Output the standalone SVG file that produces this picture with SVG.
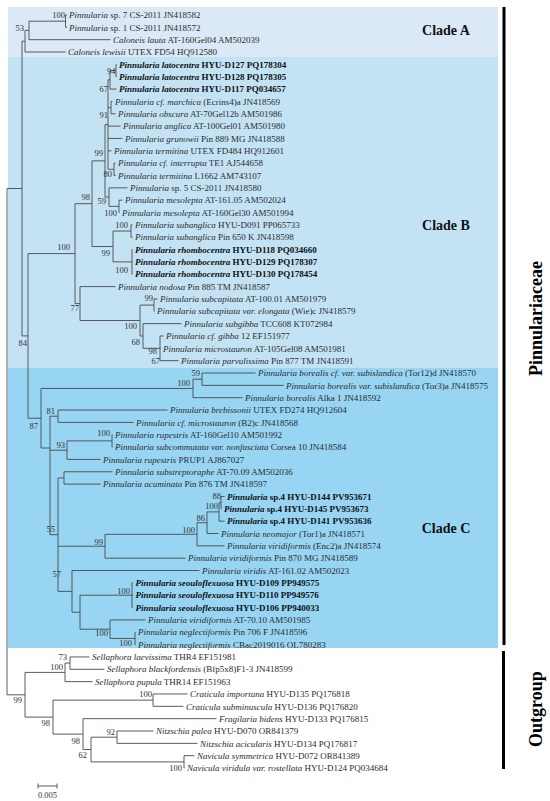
<svg xmlns="http://www.w3.org/2000/svg" width="550" height="801" viewBox="0 0 550 801">
<style>
.t{font-family:"Liberation Serif","Times New Roman",serif;font-size:9px;fill:#2b2b2b}
.i{font-style:italic}
.b{font-weight:bold;fill:#111}
.bs{font-family:"Liberation Serif","Times New Roman",serif;font-size:8.5px;fill:#333;text-anchor:end}
.cl{font-family:"Liberation Serif","Times New Roman",serif;font-size:14px;font-weight:bold;fill:#111;text-anchor:middle}
.big{font-family:"Liberation Serif","Times New Roman",serif;font-size:18px;font-weight:bold;fill:#000}
.br{fill:none;stroke:#4a4a4a;stroke-width:0.9}
</style>
<g id="backgrounds">
<rect x="8" y="7" width="490" height="50" fill="#dbe8f5"/>
<rect x="8" y="57" width="490" height="311" fill="#c3e3f4"/>
<rect x="8" y="368" width="490" height="280" fill="#97d5f3"/>
</g>
<g id="clade-labels">
<text class="cl" x="446" y="35">Clade A</text>
<text class="cl" x="446" y="230">Clade B</text>
<text class="cl" x="446" y="532.5">Clade C</text>
<rect x="502.5" y="7" width="3" height="638" fill="#000"/>
<rect x="502" y="651" width="3" height="118" fill="#000"/>
<text class="big" transform="translate(542,376) rotate(-90)">Pinnulariaceae</text>
<text class="big" transform="translate(542,747) rotate(-90)">Outgroup</text>
</g>
<g id="connectors" class="br">
<path d="M7 188.5V694.8M7 188.5H22M7 694.8H25"/>
<path d="M22 41.2V335.9M22 41.2H25M22 335.9H28"/>
<path d="M25 30.4V52.04M25 30.4H29M25 52.04H65.5"/>
<path d="M29 21.18V39.69M29 21.18H65.5M29 39.69H110.5"/>
<path d="M65.5 15V27.35M65.5 15H67M65.5 27.35H67"/>
<path d="M28 253.6V418.2M28 253.6H75M28 418.2H41"/>
<path d="M75 203.7V303.6M75 203.7H92M75 303.6H80"/>
<path d="M92 160.85V246.5M92 160.85H105M92 246.5H113"/>
<path d="M105 124.6V197.1M105 124.6H108M105 197.1H109"/>
<path d="M108 79.81V169.3M108 79.81H110M108 107.59H111M108 126.11H120.5M108 138.45H122.5M108 150.8H111.5M108 169.3H114"/>
<path d="M110 70.55V89.07M110 70.55H116M110 89.07H116.5"/>
<path d="M116 64.38V76.73M116 64.38H116.5M116 76.73H116.5"/>
<path d="M111 101.42V113.76M111 101.42H112.5M111 113.76H115.5"/>
<path d="M114 163.14V175.49M114 163.14H115.5M114 175.49H115.5"/>
<path d="M109 187.84V206.35M109 187.84H127.5M109 206.35H119"/>
<path d="M119 200.18V212.53M119 200.18H122.5M119 212.53H119.5"/>
<path d="M113 231.05V261.91M113 231.05H131M113 261.91H132"/>
<path d="M131 224.87V237.22M131 224.87H132.5M131 237.22H132.5"/>
<path d="M132 249.56V274.25M132 249.56H132.5M132 261.91H132.5M132 274.25H132.5"/>
<path d="M80 286.6V320.5M80 286.6H115.5M80 320.5H140"/>
<path d="M140 305.1V336M140 305.1H154M140 336H143"/>
<path d="M154 298.94V311.29M154 298.94H157.5M154 311.29H154.5"/>
<path d="M143 323.63V348.3M143 323.63H181.5M143 348.3H160"/>
<path d="M160 335.98V360.67M160 335.98H163.5M160 348.32H160.5M160 360.67H178.5"/>
<path d="M41 388.45V448M41 388.45H193M41 448H50"/>
<path d="M193 379.2V397.7M193 379.2H202M193 397.7H242.5"/>
<path d="M202 373V385.35M202 373H255.5M202 385.35H283.5"/>
<path d="M50 416.2V534.7M50 416.2H58M50 450.2H67M50 534.7H58"/>
<path d="M58 410.04V422.39M58 410.04H167.5M58 422.39H133.5"/>
<path d="M67 440.9V459.42M67 440.9H112M67 459.42H100.5"/>
<path d="M112 434.73V447.08M112 434.73H112.5M112 447.08H112.5"/>
<path d="M58 477.94V591.4M58 477.94H64M58 546.24H105M58 591.4H72"/>
<path d="M64 471.77V484.11M64 471.77H112.5M64 484.11H100.5"/>
<path d="M105 534.3V558.18M105 534.3H197M105 558.18H185.5"/>
<path d="M197 522.7V545.84M197 522.7H207M197 545.84H224.5"/>
<path d="M207 511.9V533.49M207 511.9H219M207 533.49H218.5"/>
<path d="M219 502.63V521.15M219 502.63H221M219 521.15H224.5"/>
<path d="M221 496.46V508.8M221 496.46H224.5M221 508.8H221.5"/>
<path d="M72 570.53V612.2M72 570.53H199.5M72 612.2H80"/>
<path d="M80 595.22V629.2M80 595.22H132M80 629.2H110"/>
<path d="M132 582.87V607.56M132 582.87H133M132 595.22H133M132 607.56H133"/>
<path d="M110 619.91V638.43M110 619.91H145.5M110 638.43H135"/>
<path d="M135 632.25V644.6M135 632.25H135.5M135 644.6H135.5"/>
<path d="M25 672.4V717.1M25 672.4H65M25 717.1H53"/>
<path d="M65 663.1V681.63M65 663.1H70M65 681.63H92.5"/>
<path d="M70 656.94V669.29M70 656.94H89.5M70 669.29H104.5"/>
<path d="M53 700.15V734.1M53 700.15H153M53 734.1H83"/>
<path d="M153 693.98V706.32M153 693.98H187.5M153 706.32H183.5"/>
<path d="M83 718.67V749.5M83 718.67H216.5M83 749.5H91"/>
<path d="M91 737.2V761.9M91 737.2H117M91 761.9H184"/>
<path d="M117 731.01V743.36M117 731.01H153.5M117 743.36H197.5"/>
<path d="M184 755.7V768.05M184 755.7H194.5M184 768.05H184.5"/>
</g>
<g id="bootstrap">
<text class="bs" x="65" y="18">100</text>
<text class="bs" x="24" y="31">53</text>
<text class="bs" x="115.5" y="74">94</text>
<text class="bs" x="108" y="92">67</text>
<text class="bs" x="108" y="118">91</text>
<text class="bs" x="103" y="156">99</text>
<text class="bs" x="112" y="177">80</text>
<text class="bs" x="90" y="200">98</text>
<text class="bs" x="106" y="204">59</text>
<text class="bs" x="117" y="216">100</text>
<text class="bs" x="70" y="250">100</text>
<text class="bs" x="128" y="228">100</text>
<text class="bs" x="110" y="256">99</text>
<text class="bs" x="128" y="273">100</text>
<text class="bs" x="153" y="301">99</text>
<text class="bs" x="79" y="311">77</text>
<text class="bs" x="137" y="329">100</text>
<text class="bs" x="140" y="345">68</text>
<text class="bs" x="157" y="354">98</text>
<text class="bs" x="160" y="364">67</text>
<text class="bs" x="27" y="346">84</text>
<text class="bs" x="200" y="376">59</text>
<text class="bs" x="190" y="386">100</text>
<text class="bs" x="55" y="414">81</text>
<text class="bs" x="38" y="429">87</text>
<text class="bs" x="110" y="436">100</text>
<text class="bs" x="65" y="448">93</text>
<text class="bs" x="221" y="499">88</text>
<text class="bs" x="218" y="509">100</text>
<text class="bs" x="205" y="521">86</text>
<text class="bs" x="195" y="533">100</text>
<text class="bs" x="55" y="532">55</text>
<text class="bs" x="103" y="545">99</text>
<text class="bs" x="61" y="577">57</text>
<text class="bs" x="130" y="594">100</text>
<text class="bs" x="108" y="636">100</text>
<text class="bs" x="132" y="646">100</text>
<text class="bs" x="67" y="660">73</text>
<text class="bs" x="63" y="670">100</text>
<text class="bs" x="22" y="703">99</text>
<text class="bs" x="152" y="697">100</text>
<text class="bs" x="50" y="726">98</text>
<text class="bs" x="80" y="744">98</text>
<text class="bs" x="115" y="735">92</text>
<text class="bs" x="87" y="758">62</text>
<text class="bs" x="182" y="771">100</text>
</g>
<g id="t01"><text class="t" x="69" y="18.2"><tspan class="i">Pinnularia</tspan> sp. 7 CS-2011 JN418582</text></g>
<g id="t02"><text class="t" x="69" y="30.55"><tspan class="i">Pinnularia</tspan> sp. 1 CS-2011 JN418572</text></g>
<g id="t03"><text class="t" x="113" y="42.89"><tspan class="i">Caloneis lauta</tspan> AT-160Gel04 AM502039</text></g>
<g id="t04"><text class="t" x="68" y="55.24"><tspan class="i">Caloneis lewisii</tspan> UTEX FD54 HQ912580</text></g>
<g id="t05"><text class="t b" x="119" y="67.58"><tspan class="i">Pinnularia latocentra</tspan> HYU-D127 PQ178304</text></g>
<g id="t06"><text class="t b" x="119" y="79.93"><tspan class="i">Pinnularia latocentra</tspan> HYU-D128 PQ178305</text></g>
<g id="t07"><text class="t b" x="119" y="92.27"><tspan class="i">Pinnularia latocentra</tspan> HYU-D117 PQ034657</text></g>
<g id="t08"><text class="t" x="115" y="104.62"><tspan class="i">Pinnularia cf. marchica</tspan> (Ecrins4)a JN418569</text></g>
<g id="t09"><text class="t" x="118" y="116.96"><tspan class="i">Pinnularia obscura</tspan> AT-70Gel12b AM501986</text></g>
<g id="t10"><text class="t" x="123" y="129.31"><tspan class="i">Pinnularia anglica</tspan> AT-100Gel01 AM501980</text></g>
<g id="t11"><text class="t" x="125" y="141.65"><tspan class="i">Pinnularia grunowii</tspan> Pin 889 MG JN418588</text></g>
<g id="t12"><text class="t" x="114" y="154"><tspan class="i">Pinnularia termitina</tspan> UTEX FD484 HQ912601</text></g>
<g id="t13"><text class="t" x="118" y="166.34"><tspan class="i">Pinnularia cf. interrupta</tspan> TE1 AJ544658</text></g>
<g id="t14"><text class="t" x="118" y="178.69"><tspan class="i">Pinnularia termitina</tspan> L1662 AM743107</text></g>
<g id="t15"><text class="t" x="130" y="191.04"><tspan class="i">Pinnularia</tspan> sp. 5 CS-2011 JN418580</text></g>
<g id="t16"><text class="t" x="125" y="203.38"><tspan class="i">Pinnularia mesolepta</tspan> AT-161.05 AM502024</text></g>
<g id="t17"><text class="t" x="122" y="215.73"><tspan class="i">Pinnularia mesolepta</tspan> AT-160Gel30 AM501994</text></g>
<g id="t18"><text class="t" x="135" y="228.07"><tspan class="i">Pinnularia subanglica</tspan> HYU-D091 PP065733</text></g>
<g id="t19"><text class="t" x="135" y="240.42"><tspan class="i">Pinnularia subanglica</tspan> Pin 650 K JN418598</text></g>
<g id="t20"><text class="t b" x="135" y="252.76"><tspan class="i">Pinnularia rhombocentra</tspan> HYU-D118 PQ034660</text></g>
<g id="t21"><text class="t b" x="135" y="265.11"><tspan class="i">Pinnularia rhombocentra</tspan> HYU-D129 PQ178307</text></g>
<g id="t22"><text class="t b" x="135" y="277.45"><tspan class="i">Pinnularia rhombocentra</tspan> HYU-D130 PQ178454</text></g>
<g id="t23"><text class="t" x="118" y="289.8"><tspan class="i">Pinnularia nodosa</tspan> Pin 885 TM JN418587</text></g>
<g id="t24"><text class="t" x="160" y="302.14"><tspan class="i">Pinnularia subcapitata</tspan> AT-100.01 AM501979</text></g>
<g id="t25"><text class="t" x="157" y="314.49"><tspan class="i">Pinnularia subcapitata var. elongata</tspan> (Wie)c JN418579</text></g>
<g id="t26"><text class="t" x="184" y="326.83"><tspan class="i">Pinnularia subgibba</tspan> TCC608 KT072984</text></g>
<g id="t27"><text class="t" x="166" y="339.18"><tspan class="i">Pinnularia cf. gibba</tspan> 12 EF151977</text></g>
<g id="t28"><text class="t" x="163" y="351.52"><tspan class="i">Pinnularia microstauron</tspan> AT-105Gel08 AM501981</text></g>
<g id="t29"><text class="t" x="181" y="363.87"><tspan class="i">Pinnularia parvulissima</tspan> Pin 877 TM JN418591</text></g>
<g id="t30"><text class="t" x="258" y="376.2"><tspan class="i">Pinnularia borealis cf. var. subislandica</tspan> (Tor12)d JN418570</text></g>
<g id="t31"><text class="t" x="286" y="388.55"><tspan class="i">Pinnularia borealis var. subislandica</tspan> (Tor3)a JN418575</text></g>
<g id="t32"><text class="t" x="245" y="400.9"><tspan class="i">Pinnularia borealis</tspan> Alka 1 JN418592</text></g>
<g id="t33"><text class="t" x="170" y="413.24"><tspan class="i">Pinnularia brebissonii</tspan> UTEX FD274 HQ912604</text></g>
<g id="t34"><text class="t" x="136" y="425.59"><tspan class="i">Pinnularia cf. microstauron</tspan> (B2)c JN418568</text></g>
<g id="t35"><text class="t" x="115" y="437.93"><tspan class="i">Pinnularia rupestris</tspan> AT-160Gel10 AM501992</text></g>
<g id="t36"><text class="t" x="115" y="450.28"><tspan class="i">Pinnularia subcommutata var. nonfasciata</tspan> Corsea 10 JN418584</text></g>
<g id="t37"><text class="t" x="103" y="462.62"><tspan class="i">Pinnularia rupestris</tspan> PRUP1 AJ867027</text></g>
<g id="t38"><text class="t" x="115" y="474.97"><tspan class="i">Pinnularia substreptoraphe</tspan> AT-70.09 AM502036</text></g>
<g id="t39"><text class="t" x="103" y="487.31"><tspan class="i">Pinnularia acuminata</tspan> Pin 876 TM JN418597</text></g>
<g id="t40"><text class="t b" x="227" y="499.66"><tspan class="i">Pinnularia</tspan> sp.4 HYU-D144 PV953671</text></g>
<g id="t41"><text class="t b" x="224" y="512"><tspan class="i">Pinnularia</tspan> sp.4 HYU-D145 PV953673</text></g>
<g id="t42"><text class="t b" x="227" y="524.35"><tspan class="i">Pinnularia</tspan> sp.4 HYU-D141 PV953636</text></g>
<g id="t43"><text class="t" x="221" y="536.69"><tspan class="i">Pinnularia neomajor</tspan> (Tor1)a JN418571</text></g>
<g id="t44"><text class="t" x="227" y="549.04"><tspan class="i">Pinnularia viridiformis</tspan> (Enc2)a JN418574</text></g>
<g id="t45"><text class="t" x="188" y="561.38"><tspan class="i">Pinnularia viridiformis</tspan> Pin 870 MG JN418589</text></g>
<g id="t46"><text class="t" x="202" y="573.73"><tspan class="i">Pinnularia viridis</tspan> AT-161.02 AM502023</text></g>
<g id="t47"><text class="t b" x="135.5" y="586.07"><tspan class="i">Pinnularia seouloflexuosa</tspan> HYU-D109 PP949575</text></g>
<g id="t48"><text class="t b" x="135.5" y="598.42"><tspan class="i">Pinnularia seouloflexuosa</tspan> HYU-D110 PP949576</text></g>
<g id="t49"><text class="t b" x="135.5" y="610.76"><tspan class="i">Pinnularia seouloflexuosa</tspan> HYU-D106 PP940033</text></g>
<g id="t50"><text class="t" x="148" y="623.11"><tspan class="i">Pinnularia viridiformis</tspan> AT-70.10 AM501985</text></g>
<g id="t51"><text class="t" x="138" y="635.45"><tspan class="i">Pinnularia neglectiformis</tspan> Pin 706 F JN418596</text></g>
<g id="t52"><text class="t" x="138" y="647.8"><tspan class="i">Pinnularia neglectiformis</tspan> CBac2019016 OL780283</text></g>
<g id="t53"><text class="t" x="92" y="660.14"><tspan class="i">Sellaphora laevissima</tspan> THR4 EF151981</text></g>
<g id="t54"><text class="t" x="107" y="672.49"><tspan class="i">Sellaphora blackfordensis</tspan> (Bfp5x8)F1-3 JN418599</text></g>
<g id="t55"><text class="t" x="95" y="684.83"><tspan class="i">Sellaphora pupula</tspan> THR14 EF151963</text></g>
<g id="t56"><text class="t" x="190" y="697.18"><tspan class="i">Craticula importuna</tspan> HYU-D135 PQ176818</text></g>
<g id="t57"><text class="t" x="186" y="709.52"><tspan class="i">Craticula subminuscula</tspan> HYU-D136 PQ176820</text></g>
<g id="t58"><text class="t" x="219" y="721.87"><tspan class="i">Fragilaria bidens</tspan> HYU-D133 PQ176815</text></g>
<g id="t59"><text class="t" x="156" y="734.21"><tspan class="i">Nitzschia palea</tspan> HYU-D070 OR841379</text></g>
<g id="t60"><text class="t" x="200" y="746.56"><tspan class="i">Nitzschia acicularis</tspan> HYU-D134 PQ176817</text></g>
<g id="t61"><text class="t" x="197" y="758.9"><tspan class="i">Navicula symmetrica</tspan> HYU-D072 OR841389</text></g>
<g id="t62"><text class="t" x="187" y="771.25"><tspan class="i">Navicula viridula var. rostellata</tspan> HYU-D124 PQ034684</text></g>
<g id="scalebar">
<path class="br" d="M38 786H57M38 783.5V788.5M57 783.5V788.5"/>
<text class="bs" x="47.5" y="798" style="text-anchor:middle">0.005</text>
</g>
</svg>
